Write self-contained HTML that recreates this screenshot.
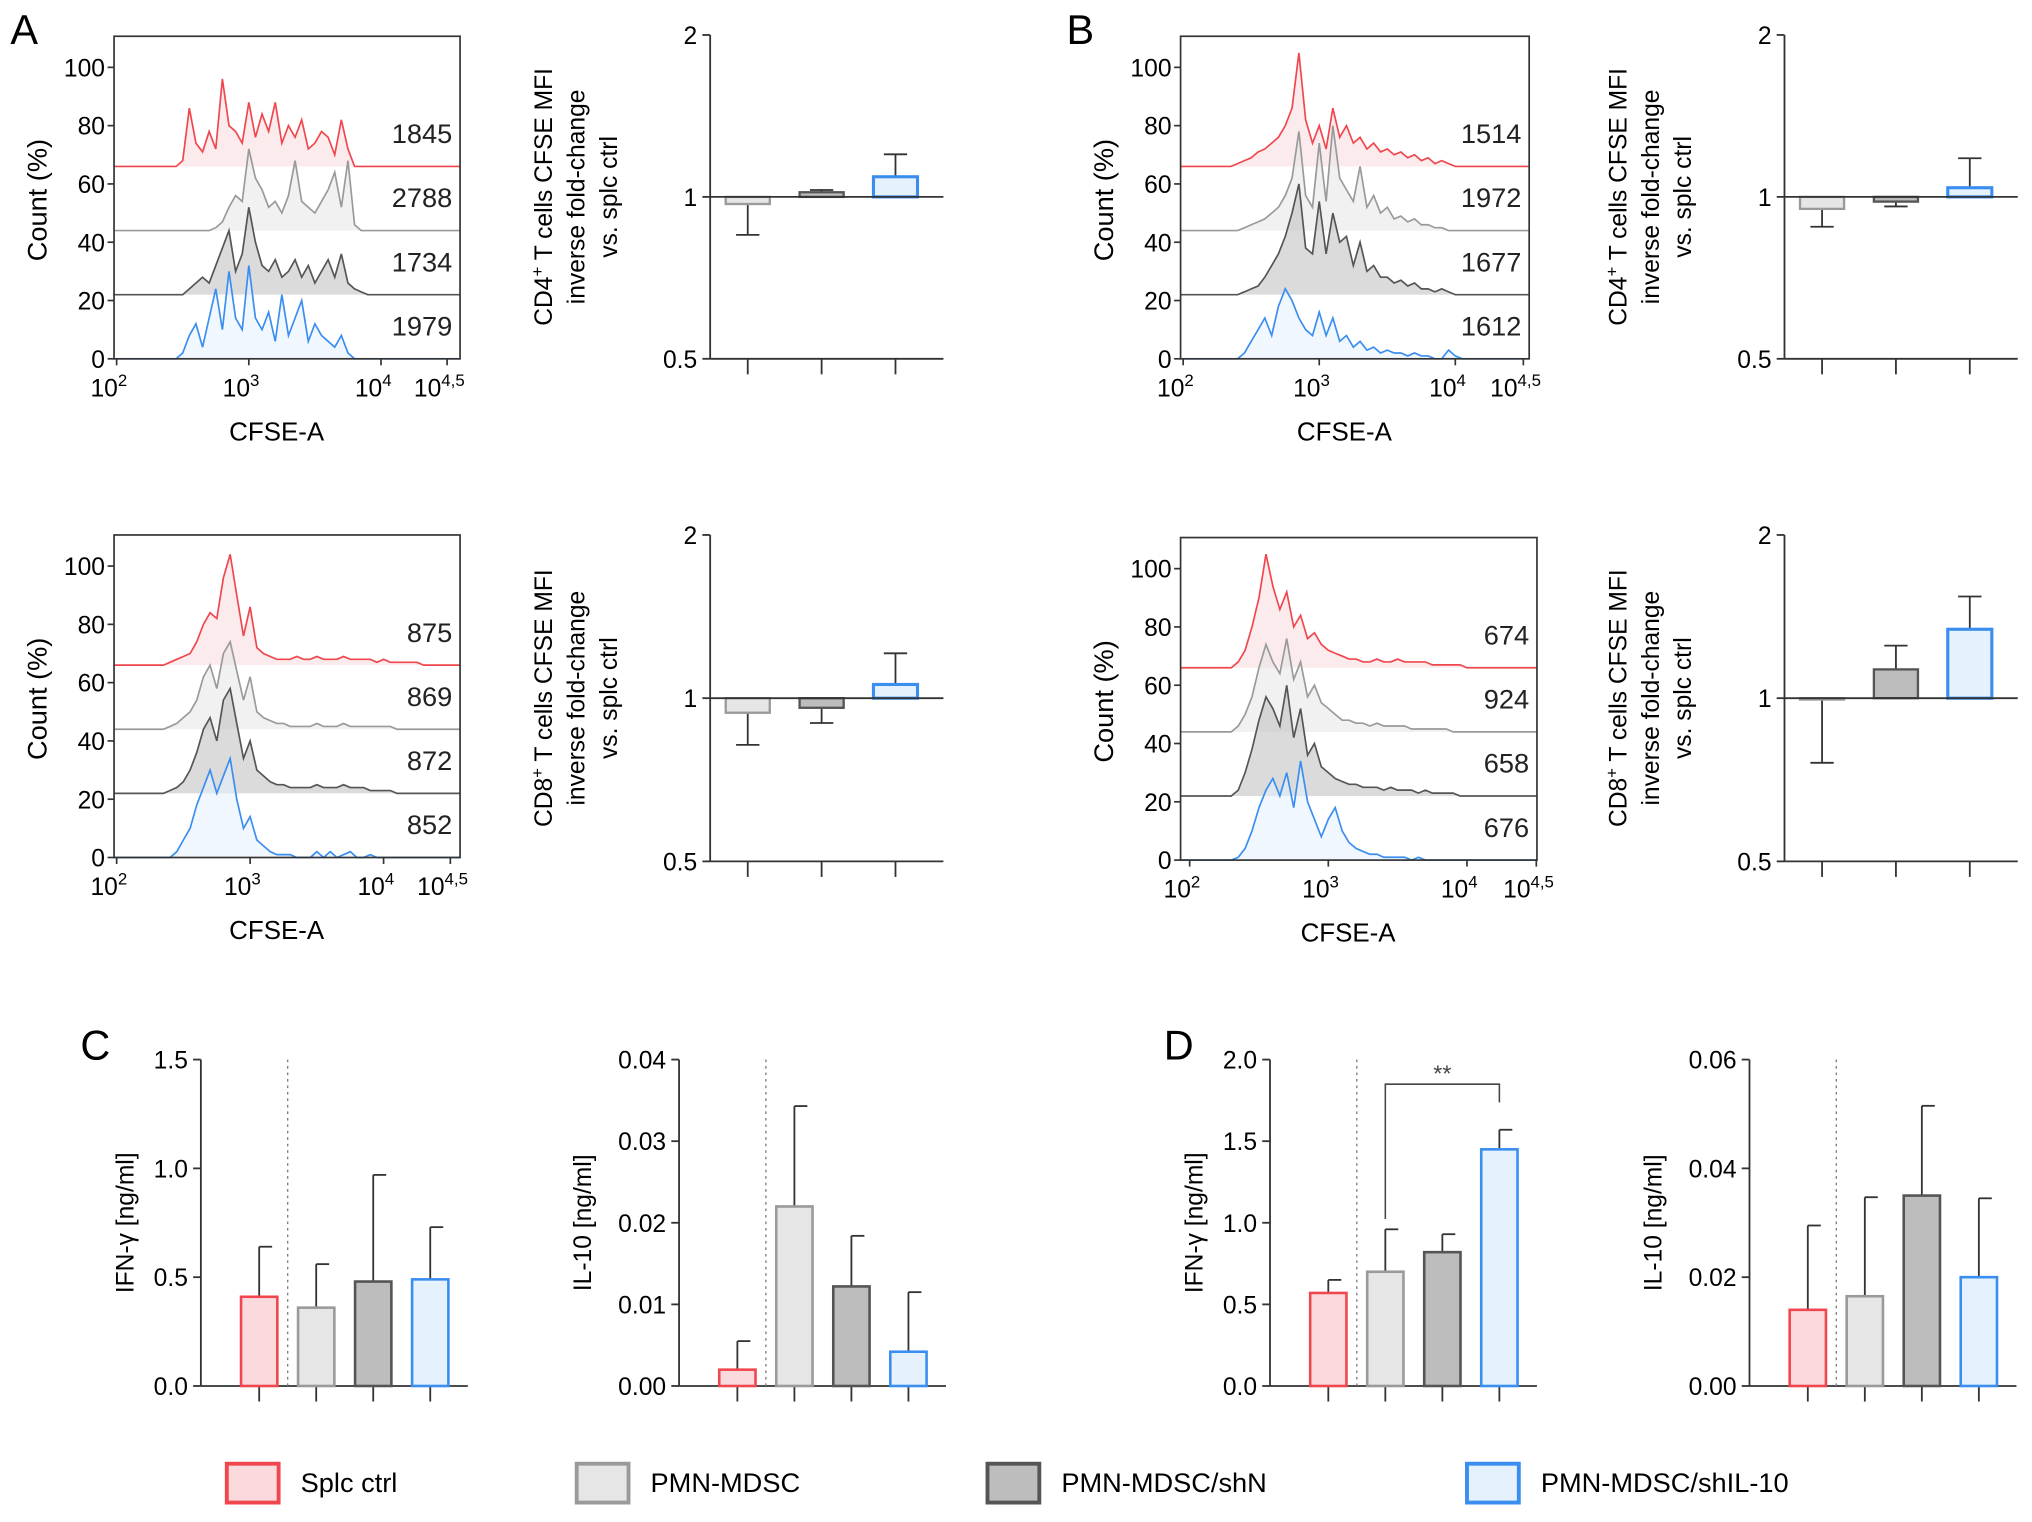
<!DOCTYPE html>
<html><head><meta charset="utf-8"><style>
html,body{margin:0;padding:0;background:#fff}
svg{display:block;font-family:"Liberation Sans",Arial,sans-serif}
</style></head><body>
<svg id="fig" xmlns="http://www.w3.org/2000/svg" width="2032" height="1522" viewBox="0 0 1568 1175" preserveAspectRatio="none">
<rect x="0" y="0" width="1568" height="1175" fill="#fff"/>
<text x="8" y="34" font-size="32">A</text>
<text x="823" y="34" font-size="32">B</text>
<text x="62" y="818" font-size="32">C</text>
<text x="898" y="818" font-size="32">D</text>
</svg>
<script>
// ---- data ----
const groups = ["Splc ctrl","PMN-MDSC","PMN-MDSC/shN","PMN-MDSC/shIL-10"];
const histLogStart = 2.2, histLogStep = 0.05;
const histA1Red  = [0,0,0,0,0,0,2,20,8,5,12,6,30,14,12,8,22,10,18,12,22,8,14,10,16,6,8,12,10,4,16,6,0,0,0,0,0,0,0,0,0,0,0];
const histA1Grey = [0,0,0,0,0,0,0,0,0,0,0,1,3,8,12,10,28,18,14,8,10,6,12,24,10,8,6,10,14,20,8,24,2,0,0,0,0,0,0,0,0,0,0];
const histA1Dark = [0,0,0,0,0,0,0,2,4,6,4,10,16,22,8,14,30,18,10,8,12,6,8,12,6,10,4,8,12,6,14,4,2,1,0,0,0,0,0,0,0,0,0];
const histA1Blue = [0,0,0,0,0,0,2,8,12,4,14,24,10,30,14,10,32,14,10,16,6,22,8,14,20,6,12,8,6,4,8,2,0,0,0,0,0,0,0,0,0,0,0];
const histA2Red  = [0,0,0,0,1,2,3,4,8,14,18,16,30,38,24,10,20,6,4,3,2,2,2,3,2,2,3,2,2,2,3,2,2,2,2,1,2,1,1,1,1,1,0];
const histA2Grey = [0,0,0,0,1,2,4,6,10,18,22,14,26,30,20,10,18,6,4,3,2,2,1,1,1,1,2,1,1,1,2,1,1,1,1,1,1,1,0,0,0,0,0];
const histA2Dark = [0,0,0,0,1,2,4,8,14,22,26,18,32,36,24,12,18,8,6,4,3,3,2,2,2,2,3,2,2,2,3,2,2,2,1,1,1,1,0,0,0,0,0];
const histA2Blue = [0,0,0,0,0,2,6,10,18,24,30,22,28,34,20,10,14,6,4,2,1,1,1,0,0,0,2,0,2,0,1,2,0,0,1,0,0,0,0,0,0,0,0];
const histB1Red  = [0,0,0,0,1,2,3,5,6,8,10,14,20,39,16,8,14,6,20,10,14,8,10,6,8,5,6,4,5,3,4,2,3,1,2,1,0,0,0,0,0,0,0];
const histB1Grey = [0,0,0,0,0,1,2,3,4,6,8,12,18,34,12,8,30,10,36,18,14,10,22,8,12,6,8,4,5,3,4,2,2,1,1,0,0,0,0,0,0,0,0];
const histB1Dark = [0,0,0,0,0,1,2,3,6,10,14,20,28,38,16,14,32,14,28,18,20,10,18,8,10,6,6,4,5,3,4,2,2,1,2,1,0,0,0,0,0,0,0];
const histB1Blue = [0,0,0,0,0,2,6,10,14,8,18,24,20,14,10,8,16,8,14,6,8,4,6,3,4,2,3,2,2,1,2,1,1,0,0,3,1,0,0,0,0,0,0];
const histB2Red  = [0,0,0,2,6,14,24,39,28,20,26,14,18,10,12,8,6,5,4,3,3,2,2,3,2,2,3,2,2,2,2,1,1,1,1,1,0,0,0,0,0,0,0];
const histB2Grey = [0,0,0,2,6,12,22,30,24,20,32,18,24,12,16,10,8,6,4,4,3,3,2,3,2,2,2,2,1,1,1,1,1,1,0,0,0,0,0,0,0,0,0];
const histB2Dark = [0,0,0,2,8,16,26,34,30,24,38,20,30,14,18,10,8,6,5,4,4,3,3,3,2,3,2,2,2,1,2,1,1,1,1,0,0,0,0,0,0,0,0];
const histB2Blue = [0,0,0,1,4,10,18,24,28,22,30,18,34,20,14,8,14,18,10,6,4,3,2,2,1,1,1,1,0,1,0,0,0,0,0,0,0,0,0,0,0,0,0];
const histOffsets = [66,44,22,0];
const mfiA1 = [1845,2788,1734,1979];
const mfiA2 = [875,869,872,852];
const mfiB1 = [1514,1972,1677,1612];
const mfiB2 = [674,924,658,676];
const histYTicks = [0,20,40,60,80,100];
const foldTicks = [0.5,1,2];
const foldA1 = [0.97,1.02,1.09], foldA1Err = [0.85,1.03,1.2];
const foldA2 = [0.94,0.96,1.06], foldA2Err = [0.82,0.90,1.21];
const foldB1 = [0.95,0.98,1.04], foldB1Err = [0.88,0.96,1.18];
const foldB2 = [1.0,1.13,1.34], foldB2Err = [0.76,1.25,1.54];
const ifnC = [0.41,0.36,0.48,0.49], ifnCErr = [0.64,0.56,0.97,0.73];
const ifnCTicks = [0.0,0.5,1.0,1.5];
const il10C = [0.002,0.022,0.0122,0.0042], il10CErr = [0.0055,0.0343,0.0184,0.0115];
const il10CTicks = [0.00,0.01,0.02,0.03,0.04];
const ifnD = [0.57,0.70,0.82,1.45], ifnDErr = [0.65,0.96,0.93,1.57];
const ifnDTicks = [0.0,0.5,1.0,1.5,2.0];
const il10D = [0.014,0.0165,0.035,0.020], il10DErr = [0.0295,0.0347,0.0515,0.0345];
const il10DTicks = [0.00,0.02,0.04,0.06];

// ---- styles ----
const STROKE = ["#f0474f","#9a9a9a","#555555","#3a8ef0"];
const FILL = ["#fadadd","#e6e6e6","#bdbdbd","#e5f1fd"];
const NS = "http://www.w3.org/2000/svg";
const svg = document.getElementById('fig');
function mk(tag, attrs, parent, txt){
  const e = document.createElementNS(NS, tag);
  for (const k in attrs) e.setAttribute(k, attrs[k]);
  if (txt !== undefined) e.textContent = txt;
  (parent||svg).appendChild(e);
  return e;
}
function fmt(v,d){return v.toFixed(d);}

function histPanel(cfg, traces, mfi, name){
  const g = mk('g',{}); 
  
  
  const yS = v => cfg.y1 - (v/100)*(cfg.y1-cfg.y100);
  const xS = l => cfg.px2 + (l-2)*cfg.dec;
  traces.forEach((arr,ti)=>{
    const base = histOffsets[ti];
    let d = `M${cfg.x0},${yS(base)} `;
    arr.forEach((v,i)=>{ d += `L${xS(histLogStart+i*histLogStep).toFixed(1)},${yS(base+v).toFixed(1)} `; });
    d += `L${cfg.x1},${yS(base)}`;
    const f = mk('path',{d:d+` L${cfg.x1},${yS(base)} L${cfg.x0},${yS(base)} Z`,fill:FILL[ti],'fill-opacity':0.55,stroke:'none'},g);
    
    
    const p = mk('path',{d:d,fill:'none',stroke:STROKE[ti],'stroke-width':1.3},g);
    
    
    const t = mk('text',{x:cfg.x1-6,y:yS(base)-18,'font-size':21,'text-anchor':'end',fill:'#222'},g,String(mfi[ti]));
    
    
  });
  mk('rect',{x:cfg.x0,y:cfg.y0,width:cfg.x1-cfg.x0,height:cfg.y1-cfg.y0,fill:'none',stroke:'#333','stroke-width':1.3},g);
  histYTicks.forEach(v=>{
    mk('line',{x1:cfg.x0-5,x2:cfg.x0,y1:yS(v),y2:yS(v),stroke:'#333','stroke-width':1.3},g);
    const t = mk('text',{x:cfg.x0-7,y:yS(v)+7,'font-size':19,'text-anchor':'end'},g,String(v));
    
    
  });
  [["2",2],["3",3],["4",4],["4,5",4.5]].forEach(([s,l])=>{
    const x = xS(l);
    mk('line',{x1:x,x2:x,y1:cfg.y1,y2:cfg.y1+5,stroke:'#333','stroke-width':1.3},g);
    const t = mk('text',{x:x-6,y:cfg.y1+29,'font-size':19,'text-anchor':'middle'},g);
    
    
    t.appendChild(document.createTextNode('10'));
    mk('tspan',{dy:-8,'font-size':13},t,s);
  });
  const xl = mk('text',{x:(cfg.x0+cfg.x1)/2-(cfg.x1-cfg.x0)*0.03,y:cfg.y1+63,'font-size':20,'text-anchor':'middle'},g,'CFSE-A');
  
  
  const yl = mk('text',{x:0,y:0,'font-size':21,'text-anchor':'middle',transform:`translate(${cfg.x0-52},${(cfg.y0+cfg.y1)/2+2}) rotate(-90)`},g,'Count (%)');
  
  
}

function foldPanel(cfg, vals, errs, cd, name){
  const g = mk('g',{});
  
  
  const yS = v => cfg.y1 - Math.log2(v)*(cfg.y1-cfg.y2);
  mk('line',{x1:cfg.ax,x2:cfg.ax,y1:yS(2),y2:yS(0.5),stroke:'#333','stroke-width':1.4},g);
  mk('line',{x1:cfg.ax,x2:cfg.ax+180,y1:yS(0.5),y2:yS(0.5),stroke:'#333','stroke-width':1.4},g);
  foldTicks.forEach(v=>{
    mk('line',{x1:cfg.ax-6,x2:cfg.ax,y1:yS(v),y2:yS(v),stroke:'#333','stroke-width':1.4},g);
    const t = mk('text',{x:cfg.ax-10,y:yS(v)+7,'font-size':19,'text-anchor':'end'},g,String(v));
    
    
  });
  vals.forEach((v,i)=>{
    const cx = cfg.ax + 29 + i*57, w = 34, gi = i+1;
    const top = Math.min(yS(v),yS(1)), bot = Math.max(yS(v),yS(1));
    mk('line',{x1:cx,x2:cx,y1:yS(0.5),y2:yS(0.5)+12,stroke:'#333','stroke-width':1.4},g);
    const e = errs[i], ye = yS(e), yb = yS(v);
    mk('line',{x1:cx,x2:cx,y1:yb,y2:ye,stroke:'#333','stroke-width':1.4},g);
    mk('line',{x1:cx-9,x2:cx+9,y1:ye,y2:ye,stroke:'#333','stroke-width':1.4},g);
    const r = mk('rect',{x:cx-w/2,y:top,width:w,height:Math.max(bot-top,1),fill:FILL[gi],stroke:STROKE[gi],'stroke-width':gi===3?2.4:1.8},g);
    
    
  });
  mk('line',{x1:cfg.ax,x2:cfg.ax+180,y1:yS(1),y2:yS(1),stroke:'#333','stroke-width':1.4},g);
  const lines = [cd+' T cells CFSE MFI','inverse fold-change','vs. splc ctrl'];
  const cy = (yS(2)+yS(0.5))/2;
  lines.forEach((s,k)=>{
    const t = mk('text',{x:0,y:0,'font-size':19,'text-anchor':'middle',transform:`translate(${cfg.ax-122+k*25},${cy}) rotate(-90)`},g);
    
    
    if(k===0){ t.appendChild(document.createTextNode(cd)); mk('tspan',{dy:-7,'font-size':13},t,'+'); mk('tspan',{dy:7},t,' T cells CFSE MFI'); }
    else t.textContent = s;
  });
}

function cytoPanel(cfg, vals, errs, ticks, dec, label, name){
  const g = mk('g',{});
  
  
  const max = ticks[ticks.length-1];
  const yS = v => 1070 - v/max*252;
  mk('line',{x1:cfg.ax,x2:cfg.ax,y1:yS(max),y2:yS(0),stroke:'#333','stroke-width':1.4},g);
  mk('line',{x1:cfg.ax,x2:cfg.ax+206,y1:yS(0),y2:yS(0),stroke:'#333','stroke-width':1.4},g);
  ticks.forEach(v=>{
    mk('line',{x1:cfg.ax-6,x2:cfg.ax,y1:yS(v),y2:yS(v),stroke:'#333','stroke-width':1.4},g);
    const t = mk('text',{x:cfg.ax-10,y:yS(v)+7,'font-size':19,'text-anchor':'end'},g,fmt(v,dec));
    
    
  });
  const cxs = vals.map((v,i)=>cfg.ax+45+i*44);
  mk('line',{x1:cfg.ax+67,x2:cfg.ax+67,y1:yS(max),y2:yS(0),stroke:'#777','stroke-width':1,'stroke-dasharray':'2,3'},g);
  vals.forEach((v,i)=>{
    const cx = cxs[i], w = 28;
    mk('line',{x1:cx,x2:cx,y1:yS(0),y2:yS(0)+12,stroke:'#333','stroke-width':1.4},g);
    mk('line',{x1:cx,x2:cx,y1:yS(v),y2:yS(errs[i]),stroke:'#333','stroke-width':1.4},g);
    mk('line',{x1:cx,x2:cx+10,y1:yS(errs[i]),y2:yS(errs[i]),stroke:'#333','stroke-width':1.4},g);
    const r = mk('rect',{x:cx-w/2,y:yS(v),width:w,height:yS(0)-yS(v),fill:FILL[i],stroke:STROKE[i],'stroke-width':2},g);
    
    
  });
  const t = mk('text',{x:0,y:0,'font-size':19,'text-anchor':'middle',transform:`translate(${cfg.ax-cfg.tOff},${yS(max/2)}) rotate(-90)`},g,label);
  
  
  return {g, yS, cxs};
}

histPanel({x0:88,x1:355,y0:28,y1:277,y100:52,px2:90,dec:102},[histA1Red,histA1Grey,histA1Dark,histA1Blue],mfiA1,'histogram-a-cd4');
histPanel({x0:88,x1:355,y0:413,y1:662,y100:437,px2:90,dec:103},[histA2Red,histA2Grey,histA2Dark,histA2Blue],mfiA2,'histogram-a-cd8');
histPanel({x0:911,x1:1180,y0:28,y1:277,y100:52,px2:913,dec:105},[histB1Red,histB1Grey,histB1Dark,histB1Blue],mfiB1,'histogram-b-cd4');
histPanel({x0:911,x1:1186,y0:415,y1:664,y100:439,px2:918,dec:107},[histB2Red,histB2Grey,histB2Dark,histB2Blue],mfiB2,'histogram-b-cd8');

foldPanel({ax:548,y1:152,y2:27},foldA1,foldA1Err,'CD4','fold-change-a-cd4');
foldPanel({ax:548,y1:539,y2:413},foldA2,foldA2Err,'CD8','fold-change-a-cd8');
foldPanel({ax:1377,y1:152,y2:27},foldB1,foldB1Err,'CD4','fold-change-b-cd4');
foldPanel({ax:1377,y1:539,y2:413},foldB2,foldB2Err,'CD8','fold-change-b-cd8');

cytoPanel({ax:155,tOff:52},ifnC,ifnCErr,ifnCTicks,1,'IFN-γ [ng/ml]','ifn-chart-c');
cytoPanel({ax:524,tOff:68},il10C,il10CErr,il10CTicks,2,'IL-10 [ng/ml]','il10-chart-c');
const dP = cytoPanel({ax:980,tOff:52},ifnD,ifnDErr,ifnDTicks,1,'IFN-γ [ng/ml]','ifn-chart-d');
cytoPanel({ax:1350,tOff:68},il10D,il10DErr,il10DTicks,2,'IL-10 [ng/ml]','il10-chart-d');
// significance bracket
const by = 837;
const br = mk('path',{d:`M${dP.cxs[1]},${dP.yS(ifnDErr[1])-8} L${dP.cxs[1]},${by} L${dP.cxs[3]},${by} L${dP.cxs[3]},${by+14}`,fill:'none',stroke:'#444','stroke-width':1.2});


const st = mk('text',{x:(dP.cxs[1]+dP.cxs[3])/2,y:by-2,'font-size':18,'text-anchor':'middle',fill:'#444'},svg,'**');



// legend
const legX = [175,445,762,1132];
groups.forEach((n,i)=>{
  const r = mk('rect',{x:legX[i],y:1130,width:40,height:30,fill:FILL[i],stroke:STROKE[i],'stroke-width':3});
  
  
  const t = mk('text',{x:legX[i]+57,y:1152,'font-size':21},svg,n);
  
  
});
</script>
</body></html>
